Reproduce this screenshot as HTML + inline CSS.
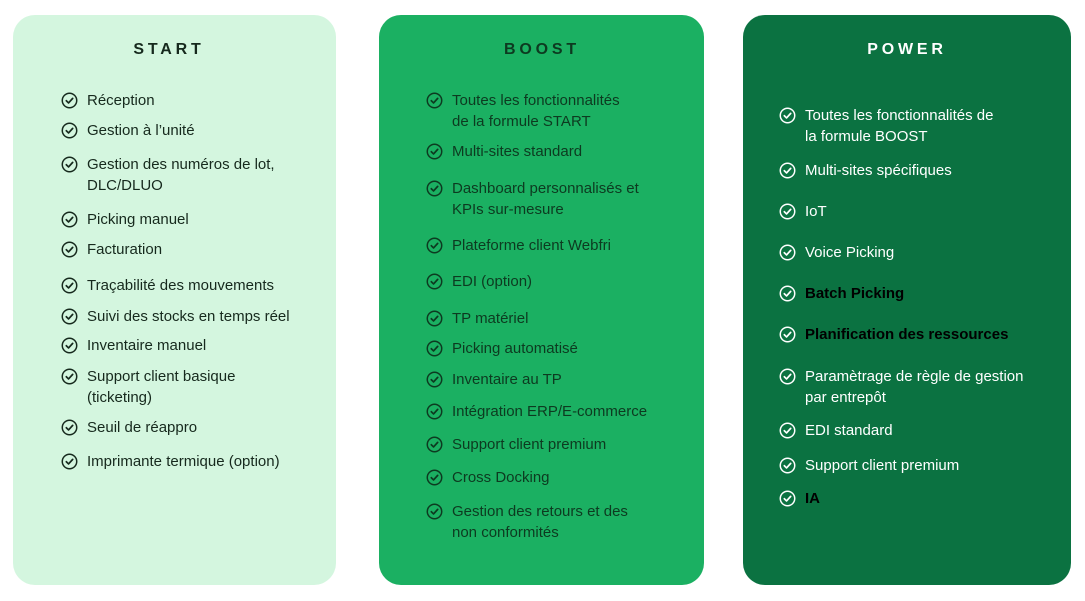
<!DOCTYPE html>
<html><head><meta charset="utf-8">
<style>
html,body{margin:0;padding:0;background:#fff;}
body{width:1085px;height:601px;position:relative;overflow:hidden;font-family:"Liberation Sans",sans-serif;}
.p{position:absolute;top:15px;height:570px;border-radius:22px;}
.t{position:absolute;top:41px;font-weight:bold;font-size:16px;letter-spacing:3.8px;transform:translateX(-50%);}
.i{position:absolute;font-size:15px;line-height:21px;white-space:nowrap;}
.i svg{position:absolute;left:-26px;top:2px;width:17px;height:17px;}
.s .i{color:#16291d}
.b .i{color:#0d3a20}
.w .i{color:#fff}
.w .i.k{color:#000;font-weight:bold}
</style></head><body>
<div class="p" style="left:13px;width:323px;background:#d4f6df"></div>
<div class="p" style="left:379px;width:325px;background:#1bb062"></div>
<div class="p" style="left:743px;width:328px;background:#0b7241"></div>
<div class="t" style="left:169px;color:#16291d">START</div>
<div class="t" style="left:542px;color:#0d3a20">BOOST</div>
<div class="t" style="left:907px;color:#fff">POWER</div>

<svg width="0" height="0" style="position:absolute"><defs>
<symbol id="c" viewBox="0 0 16 16"><circle cx="8" cy="8" r="6.8" fill="none" stroke="currentColor" stroke-width="1.4"/><path d="M5 8.2l2.1 2.1L11 6" fill="none" stroke="currentColor" stroke-width="1.6" stroke-linecap="round" stroke-linejoin="round"/></symbol>
</defs></svg>

<div class="s">
<div class="i" style="left:87px;top:90px"><svg><use href="#c"/></svg>Réception</div>
<div class="i" style="left:87px;top:120px"><svg><use href="#c"/></svg>Gestion à l’unité</div>
<div class="i" style="left:87px;top:154px"><svg><use href="#c"/></svg>Gestion des numéros de lot,<br>DLC/DLUO</div>
<div class="i" style="left:87px;top:209px"><svg><use href="#c"/></svg>Picking manuel</div>
<div class="i" style="left:87px;top:239px"><svg><use href="#c"/></svg>Facturation</div>
<div class="i" style="left:87px;top:275px"><svg><use href="#c"/></svg>Traçabilité des mouvements</div>
<div class="i" style="left:87px;top:306px"><svg><use href="#c"/></svg>Suivi des stocks en temps réel</div>
<div class="i" style="left:87px;top:335px"><svg><use href="#c"/></svg>Inventaire manuel</div>
<div class="i" style="left:87px;top:366px"><svg><use href="#c"/></svg>Support client basique<br>(ticketing)</div>
<div class="i" style="left:87px;top:417px"><svg><use href="#c"/></svg>Seuil de réappro</div>
<div class="i" style="left:87px;top:451px"><svg><use href="#c"/></svg>Imprimante termique (option)</div>
</div>

<div class="b">
<div class="i" style="left:452px;top:90px"><svg><use href="#c"/></svg>Toutes les fonctionnalités<br>de la formule START</div>
<div class="i" style="left:452px;top:141px"><svg><use href="#c"/></svg>Multi-sites standard</div>
<div class="i" style="left:452px;top:178px"><svg><use href="#c"/></svg>Dashboard personnalisés et<br>KPIs sur-mesure</div>
<div class="i" style="left:452px;top:235px"><svg><use href="#c"/></svg>Plateforme client Webfri</div>
<div class="i" style="left:452px;top:271px"><svg><use href="#c"/></svg>EDI (option)</div>
<div class="i" style="left:452px;top:308px"><svg><use href="#c"/></svg>TP matériel</div>
<div class="i" style="left:452px;top:338px"><svg><use href="#c"/></svg>Picking automatisé</div>
<div class="i" style="left:452px;top:369px"><svg><use href="#c"/></svg>Inventaire au TP</div>
<div class="i" style="left:452px;top:401px"><svg><use href="#c"/></svg>Intégration ERP/E-commerce</div>
<div class="i" style="left:452px;top:434px"><svg><use href="#c"/></svg>Support client premium</div>
<div class="i" style="left:452px;top:467px"><svg><use href="#c"/></svg>Cross Docking</div>
<div class="i" style="left:452px;top:501px"><svg><use href="#c"/></svg>Gestion des retours et des<br>non conformités</div>
</div>

<div class="w">
<div class="i" style="left:805px;top:105px"><svg style="color:#fff"><use href="#c"/></svg>Toutes les fonctionnalités de<br>la formule BOOST</div>
<div class="i" style="left:805px;top:160px"><svg><use href="#c"/></svg>Multi-sites spécifiques</div>
<div class="i" style="left:805px;top:201px"><svg><use href="#c"/></svg>IoT</div>
<div class="i" style="left:805px;top:242px"><svg><use href="#c"/></svg>Voice Picking</div>
<div class="i k" style="left:805px;top:283px"><svg style="color:#fff"><use href="#c"/></svg>Batch Picking</div>
<div class="i k" style="left:805px;top:324px"><svg style="color:#fff"><use href="#c"/></svg>Planification des ressources</div>
<div class="i" style="left:805px;top:366px"><svg><use href="#c"/></svg>Paramètrage de règle de gestion<br>par entrepôt</div>
<div class="i" style="left:805px;top:420px"><svg><use href="#c"/></svg>EDI standard</div>
<div class="i" style="left:805px;top:455px"><svg><use href="#c"/></svg>Support client premium</div>
<div class="i k" style="left:805px;top:488px"><svg style="color:#fff"><use href="#c"/></svg>IA</div>
</div>
</body></html>
